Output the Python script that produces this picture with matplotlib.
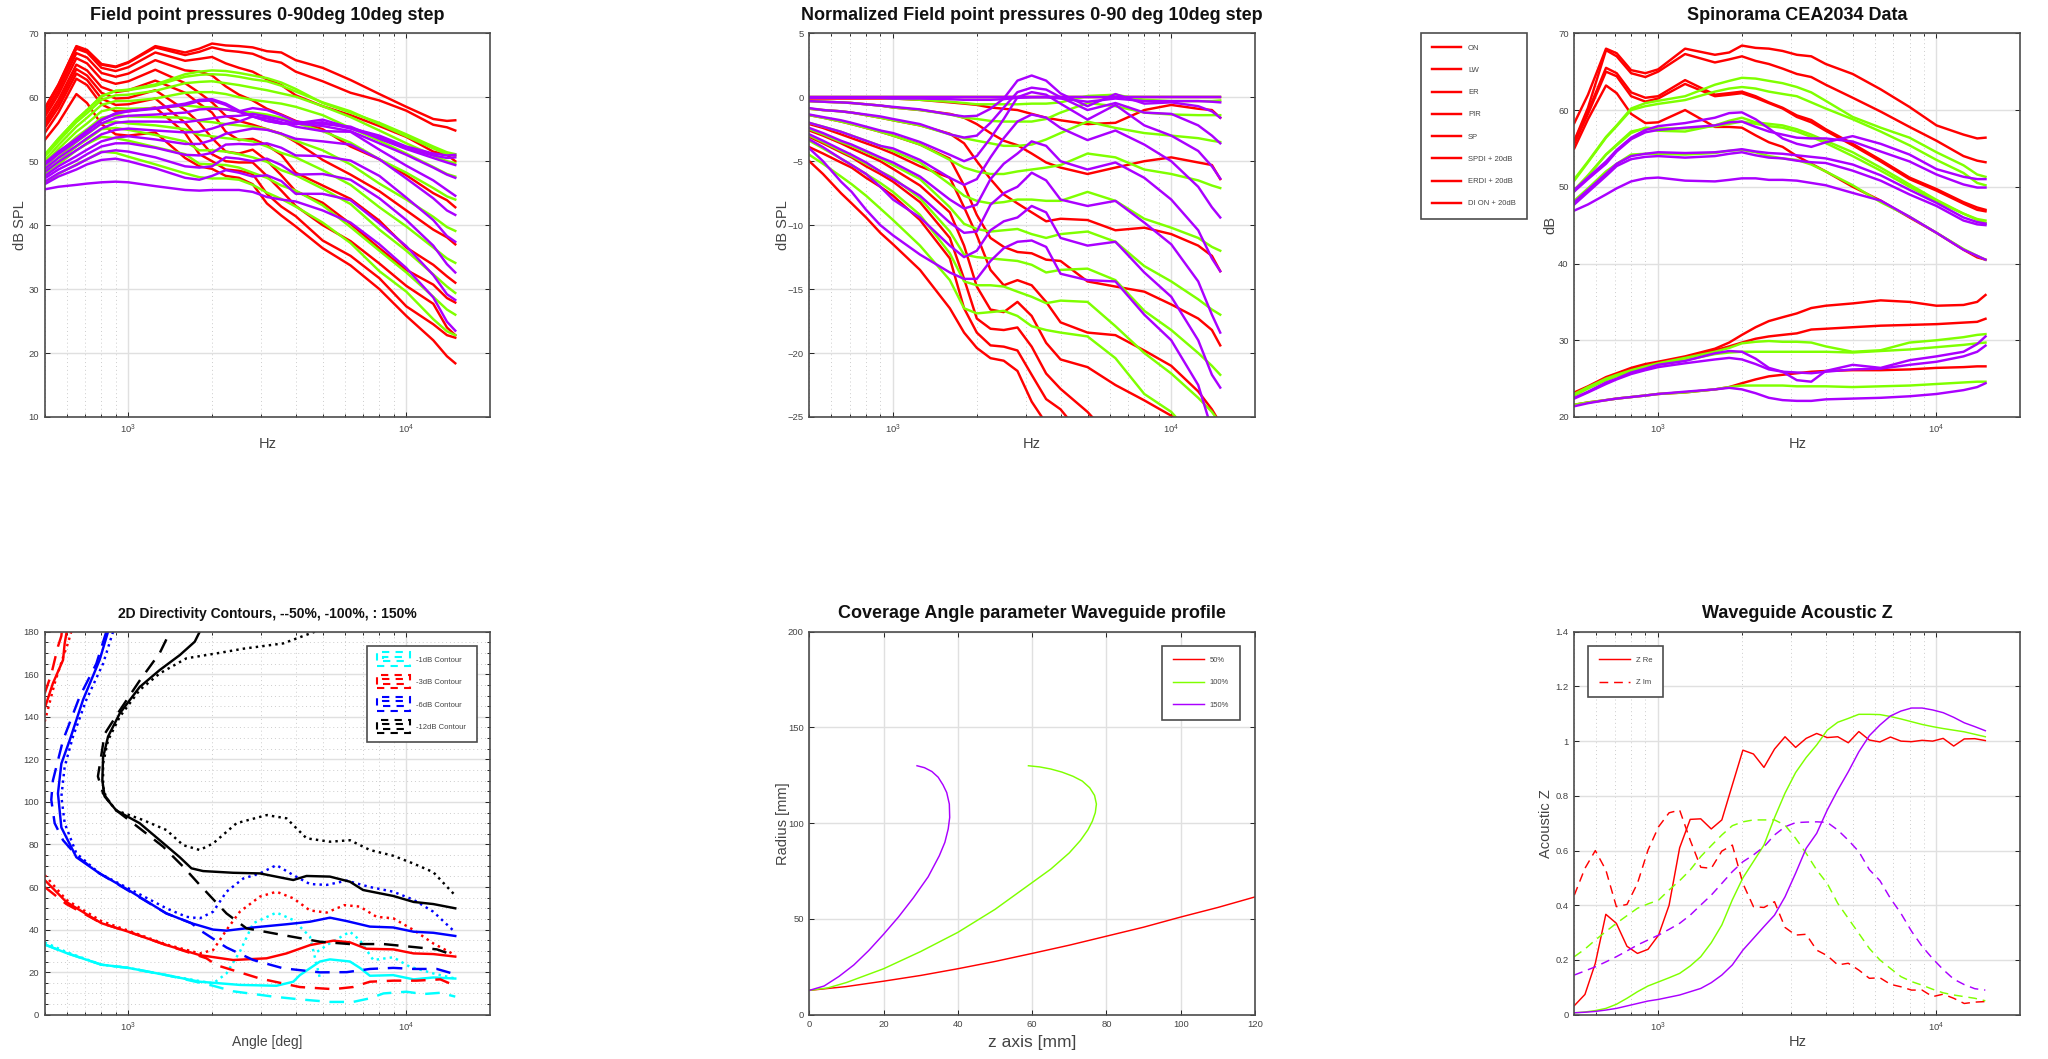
import matplotlib
matplotlib.use('Agg')
import matplotlib.pyplot as plt
from matplotlib.legend_handler import HandlerBase
from matplotlib.lines import Line2D
from matplotlib.patches import Rectangle

plt.rcParams['font.family'] = ['Liberation Sans', 'DejaVu Sans']
plt.rcParams['mathtext.default'] = 'regular'

W, H = 2048, 1059
RED = '#ff0000'
GREEN = '#7fff00'
PURPLE = '#aa00ff'
TXT = '#444444'
THICK = 1.75
THIN = 1.05

freq = [500, 560, 650, 710, 800, 900, 1000, 1250, 1600, 1800, 2000, 2240, 2500, 2800, 3150, 3550, 4000, 5000, 6300, 8000, 10000, 12500, 14000, 15000]

# field point pressures
spl_r0 = [58.3,62.0,68.0,67.4,65.2,64.8,65.5,68.0,67.0,67.6,68.4,68.1,68.0,67.8,67.2,67.0,65.8,64.6,62.7,60.5,58.5,56.6,56.3,56.4]
spl_r1 = [58.2,61.9,67.9,67.3,65.1,64.7,65.4,67.8,66.6,67.1,67.8,67.3,67.1,66.8,65.9,65.4,64.0,62.5,60.7,59.5,57.9,55.7,55.3,54.8]
spl_r2 = [58.0,61.6,67.6,67.0,64.6,64.1,64.7,67.0,65.7,66.0,66.3,65.3,64.6,64.0,62.8,61.9,60.3,58.6,57.2,55.5,53.8,51.5,51.0,50.0]
spl_r3 = [57.4,61.0,66.9,66.2,63.8,63.2,63.7,65.8,64.2,64.0,63.4,61.7,60.4,59.5,58.2,57.3,56.3,55.0,52.3,50.3,47.8,45.0,43.9,42.8]
spl_r4 = [56.9,60.4,66.1,65.3,62.8,62.1,62.5,64.3,62.2,60.7,59.2,57.1,56.3,55.7,55.0,54.3,53.0,50.2,47.9,45.3,42.3,39.3,38.1,37.0]
spl_r5 = [56.2,59.6,65.1,64.2,61.6,60.8,61.1,62.6,60.7,59.0,57.6,54.6,53.3,53.5,52.5,51.0,48.2,46.2,44.1,40.7,36.5,33.8,32.0,31.0]
spl_r6 = [55.7,59.0,64.4,63.4,60.7,59.8,59.9,61.1,58.0,56.0,53.6,51.5,51.2,51.8,50.1,47.8,45.3,43.5,40.2,36.4,33.0,30.7,28.6,27.9]
spl_r7 = [55.2,58.4,63.7,62.7,59.8,58.8,58.9,59.8,56.0,53.4,51.1,50.0,49.8,49.8,47.7,45.4,43.0,40.0,37.5,34.0,30.5,27.7,24.0,22.8]
spl_r8 = [54.4,57.6,62.9,61.9,58.9,57.8,57.8,58.4,54.4,51.1,50.0,48.7,48.5,48.0,44.9,42.9,41.4,37.6,35.2,31.7,27.3,24.5,22.8,22.4]
spl_r9 = [53.3,56.0,60.5,59.1,55.8,54.2,54.0,54.5,50.5,49.2,48.8,47.7,47.4,46.4,43.4,41.5,39.8,36.4,33.7,30.0,25.8,22.0,19.5,18.4]

spl_g0 = [51.0,53.5,56.5,58.0,60.2,61.0,61.2,62.0,63.6,64.0,64.2,64.1,63.8,63.4,63.0,62.3,61.3,59.1,57.6,56.0,54.2,52.3,51.4,51.1]
spl_g1 = [51.0,53.5,56.5,58.0,60.1,61.0,61.1,61.8,63.2,63.5,63.6,63.5,63.2,62.8,62.5,61.8,60.9,59.2,57.8,55.8,53.9,52.0,51.1,50.8]
spl_g2 = [50.7,53.1,56.1,57.5,59.6,60.3,60.4,61.0,62.2,62.4,62.5,62.2,61.9,61.5,61.1,60.6,60.1,58.6,56.9,54.8,52.8,50.9,50.0,49.7]
spl_g3 = [50.1,52.5,55.4,56.8,58.8,59.4,59.4,59.8,60.7,60.8,60.8,60.5,60.0,59.6,59.3,59.0,58.5,57.2,55.2,53.2,51.2,49.1,48.0,47.6]
spl_g4 = [49.6,51.9,54.6,55.9,57.8,58.3,58.2,58.3,58.7,58.5,58.4,58.1,57.8,57.6,57.3,56.8,56.0,54.7,52.9,50.3,48.2,45.8,44.5,44.0]
spl_g5 = [49.0,51.2,53.8,55.0,56.8,57.2,57.0,56.9,56.8,56.3,56.1,55.8,55.6,55.4,55.0,54.2,53.2,51.7,49.5,46.5,44.0,41.3,39.7,39.1]
spl_g6 = [48.5,50.6,53.0,54.2,55.9,56.2,55.9,55.6,55.0,54.1,53.9,53.6,53.4,53.1,52.3,51.3,50.6,48.6,46.3,42.8,39.8,36.5,34.8,34.1]
spl_g7 = [48.0,50.0,52.3,53.4,55.0,55.2,54.9,54.1,53.1,51.7,51.7,51.5,51.1,50.6,49.9,48.6,47.8,45.7,43.3,39.3,36.0,32.3,30.4,29.4]
spl_g8 = [47.6,49.5,51.7,52.7,53.8,53.6,53.2,52.2,51.1,49.6,49.5,49.4,49.0,48.2,47.4,46.2,45.4,43.1,39.7,36.0,32.6,28.8,26.8,26.0]
spl_g9 = [46.5,48.0,49.5,50.3,51.5,51.3,50.7,49.5,48.1,47.5,47.3,47.3,47.1,46.3,45.1,44.1,42.9,40.4,37.2,32.8,29.6,25.3,23.4,22.8]

spl_p0 = [49.7,51.5,53.5,54.8,56.5,57.5,57.9,58.3,59.0,59.6,59.7,59.0,57.9,57.0,56.3,55.9,55.9,56.5,55.2,54.0,52.3,51.2,50.9,51.0]
spl_p1 = [49.6,51.4,53.4,54.7,56.4,57.4,57.8,58.2,58.8,59.4,59.5,58.8,57.7,57.0,56.3,55.9,55.8,56.1,55.1,53.7,52.0,50.9,50.5,50.6]
spl_p2 = [49.4,51.1,53.1,54.3,55.9,56.8,57.1,57.3,57.6,58.1,58.2,58.1,57.8,58.3,58.0,57.2,56.2,55.8,55.4,53.5,51.9,50.5,49.8,49.4]
spl_p3 = [48.8,50.5,52.4,53.6,55.1,56.0,56.2,56.2,56.1,56.4,56.7,57.0,57.1,57.4,57.0,56.5,55.9,55.5,54.7,52.8,51.0,49.0,47.9,47.4]
spl_p4 = [48.3,49.9,51.7,52.8,54.2,54.9,55.1,54.8,54.5,54.6,55.1,55.8,56.2,57.0,56.7,56.1,55.4,54.7,54.6,51.8,49.3,47.0,45.5,44.6]
spl_p5 = [47.7,49.2,50.8,51.8,53.1,53.7,53.9,53.4,52.7,52.7,53.3,54.3,54.7,55.1,54.9,54.3,53.5,53.1,52.6,50.3,47.3,44.2,42.3,41.6]
spl_p6 = [47.3,48.7,50.1,51.1,52.3,52.8,52.8,52.1,51.0,50.9,51.3,52.6,52.7,52.6,52.8,52.1,50.9,50.8,50.1,47.7,44.3,40.8,38.3,37.4]
spl_p7 = [46.8,48.1,49.4,50.3,51.4,51.7,51.5,50.6,49.2,49.0,49.2,50.6,50.4,50.0,50.4,49.4,47.9,48.0,47.1,44.2,40.8,36.8,33.9,32.6]
spl_p8 = [46.4,47.6,48.7,49.5,50.2,50.4,50.0,48.9,47.4,47.1,47.7,48.6,48.2,47.6,47.8,46.9,44.9,44.9,43.9,40.3,36.7,32.2,29.2,28.3]
spl_p9 = [45.6,46.0,46.3,46.5,46.7,46.8,46.7,46.1,45.5,45.4,45.5,45.5,45.5,45.2,44.4,44.0,43.7,42.3,40.4,37.0,33.3,28.7,24.9,23.5]

# normalized field point pressures
norm_zero = [0.0] * 24
norm_r1 = [-0.1,-0.1,-0.1,-0.1,-0.1,-0.1,-0.1,-0.2,-0.4,-0.5,-0.6,-0.8,-0.9,-1.0,-1.3,-1.6,-1.8,-2.1,-2.0,-1.0,-0.6,-0.9,-1.0,-1.6]
norm_r2 = [-0.3,-0.35,-0.4,-0.45,-0.55,-0.65,-0.8,-1.0,-1.3,-1.6,-2.1,-2.8,-3.4,-3.75,-4.4,-5.1,-5.5,-6.0,-5.5,-5.0,-4.7,-5.1,-5.3,-6.4]
norm_r3 = [-0.9,-1.0,-1.1,-1.2,-1.4,-1.6,-1.8,-2.2,-2.85,-3.6,-5.0,-6.4,-7.6,-8.3,-9.0,-9.7,-9.5,-9.6,-10.4,-10.2,-10.7,-11.6,-12.4,-13.6]
norm_r4 = [-1.4,-1.6,-1.9,-2.1,-2.4,-2.7,-3.0,-3.7,-4.8,-6.9,-9.2,-11.0,-11.7,-12.1,-12.2,-12.7,-12.8,-14.4,-14.8,-15.2,-16.2,-17.3,-18.2,-19.4]
norm_r5 = [-2.1,-2.4,-2.9,-3.2,-3.6,-4.0,-4.4,-5.4,-6.3,-8.6,-10.8,-13.5,-14.7,-14.3,-14.7,-16.0,-17.6,-18.4,-18.6,-19.8,-21.0,-23.0,-24.4,-25.5]
norm_r6 = [-2.6,-3.0,-3.6,-4.0,-4.5,-5.0,-5.6,-6.9,-9.0,-11.6,-14.8,-16.6,-16.8,-16.0,-17.1,-19.2,-20.5,-21.1,-22.5,-23.7,-24.9,-26.5,-28.0,-28.5]
norm_r7 = [-3.1,-3.6,-4.3,-4.7,-5.4,-6.0,-6.6,-8.2,-11.0,-14.2,-17.3,-18.1,-18.2,-18.0,-19.5,-21.6,-22.8,-24.6,-27.0,-29.0,-31.0,-33.0,-33.5,-33.8]
norm_r8 = [-3.9,-4.4,-5.1,-5.5,-6.3,-7.0,-7.7,-9.6,-12.6,-16.5,-18.4,-19.4,-19.5,-19.8,-21.7,-23.6,-24.4,-27.0,-28.0,-29.0,-31.0,-33.0,-33.5,-34.0]
norm_r9 = [-5.0,-6.0,-7.5,-8.3,-9.4,-10.6,-11.5,-13.5,-16.5,-18.4,-19.6,-20.4,-20.6,-21.4,-23.8,-25.5,-26.0,-28.2,-29.0,-30.5,-32.7,-34.6,-37.0,-38.0]

norm_g1 = [0,0,0,0,-0.05,-0.05,-0.1,-0.2,-0.35,-0.45,-0.55,-0.55,-0.55,-0.55,-0.5,-0.5,-0.4,0.1,0.2,-0.2,-0.3,-0.3,-0.3,-0.25]
norm_g2 = [-0.3,-0.35,-0.4,-0.45,-0.55,-0.65,-0.8,-1.0,-1.35,-1.6,-1.7,-1.85,-1.9,-1.9,-1.9,-1.7,-1.2,-0.45,-0.7,-1.2,-1.35,-1.4,-1.4,-1.4]
norm_g3 = [-0.9,-1.0,-1.1,-1.2,-1.4,-1.6,-1.8,-2.2,-2.9,-3.2,-3.4,-3.6,-3.8,-3.8,-3.7,-3.3,-2.8,-1.9,-2.4,-2.8,-3.0,-3.2,-3.4,-3.5]
norm_g4 = [-1.4,-1.6,-1.9,-2.1,-2.4,-2.7,-3.0,-3.7,-4.9,-5.5,-5.8,-6.0,-6.0,-5.8,-5.65,-5.5,-5.3,-4.4,-4.7,-5.65,-6.0,-6.5,-6.9,-7.1]
norm_g5 = [-2.0,-2.3,-2.7,-3.0,-3.4,-3.8,-4.2,-5.1,-6.8,-7.7,-8.1,-8.3,-8.2,-8.0,-8.0,-8.1,-8.1,-7.4,-8.1,-9.5,-10.2,-11.0,-11.7,-12.0]
norm_g6 = [-2.5,-2.9,-3.5,-3.8,-4.3,-4.8,-5.3,-6.4,-8.6,-9.9,-10.3,-10.5,-10.4,-10.3,-10.7,-11.0,-10.7,-10.5,-11.3,-13.2,-14.4,-15.8,-16.6,-17.0]
norm_g7 = [-3.0,-3.5,-4.2,-4.6,-5.2,-5.8,-6.3,-7.9,-10.5,-12.3,-12.5,-12.6,-12.7,-12.8,-13.1,-13.7,-13.5,-13.4,-14.3,-16.7,-18.2,-20.0,-21.0,-21.7]
norm_g8 = [-3.4,-4.0,-4.8,-5.3,-6.0,-6.7,-7.4,-9.2,-12.2,-14.4,-14.7,-14.7,-14.8,-15.2,-15.6,-16.1,-15.9,-16.0,-17.9,-20.0,-21.6,-23.5,-24.6,-25.5]
norm_g9 = [-4.5,-5.2,-6.2,-6.8,-7.7,-8.7,-9.6,-11.6,-14.3,-16.5,-16.9,-16.8,-16.7,-17.1,-17.9,-18.2,-18.4,-18.7,-20.4,-23.2,-24.6,-27.0,-28.0,-28.5]

norm_p1 = [-0.05,-0.05,-0.05,-0.05,-0.05,-0.05,-0.1,-0.1,-0.15,-0.2,-0.2,-0.2,-0.15,-0.05,0,0,-0.1,-0.35,-0.1,-0.3,-0.3,-0.3,-0.35,-0.4]
norm_p2 = [-0.3,-0.35,-0.4,-0.45,-0.55,-0.65,-0.75,-0.95,-1.35,-1.5,-1.45,-0.9,-0.1,1.3,1.7,1.3,0.3,-0.7,0.25,-0.5,-0.4,-0.7,-1.1,-1.6]
norm_p3 = [-0.85,-1.0,-1.1,-1.2,-1.35,-1.5,-1.7,-2.1,-2.9,-3.15,-3.0,-2.0,-0.8,0.4,0.75,0.6,0,-1.0,-0.45,-1.2,-1.3,-2.2,-3.0,-3.6]
norm_p4 = [-1.35,-1.55,-1.8,-2.0,-2.3,-2.6,-2.8,-3.5,-4.5,-5.0,-4.6,-3.2,-1.7,0,0.4,0.2,-0.5,-1.75,-0.6,-2.2,-3.0,-4.2,-5.4,-6.35]
norm_p5 = [-2.0,-2.3,-2.7,-3.0,-3.4,-3.8,-4.0,-4.9,-6.3,-6.85,-6.4,-4.7,-3.2,-1.9,-1.35,-1.6,-2.4,-3.35,-2.6,-3.7,-5.0,-7.0,-8.6,-9.4]
norm_p6 = [-2.4,-2.8,-3.4,-3.7,-4.2,-4.7,-5.1,-6.2,-8.0,-8.7,-8.4,-6.4,-5.2,-4.4,-3.45,-3.8,-5.0,-5.65,-5.1,-6.3,-8.0,-10.4,-12.6,-13.6]
norm_p7 = [-2.9,-3.4,-4.1,-4.5,-5.1,-5.8,-6.4,-7.7,-9.8,-10.6,-10.5,-8.4,-7.5,-7.0,-5.9,-6.5,-8.0,-8.5,-8.1,-9.8,-11.5,-14.4,-17.0,-18.4]
norm_p8 = [-3.3,-3.9,-4.8,-5.3,-6.0,-7.0,-8.0,-9.4,-11.6,-12.5,-12.0,-10.4,-9.7,-9.4,-8.5,-9.0,-11.0,-11.6,-11.3,-13.7,-15.6,-19.0,-21.7,-22.7]
norm_p9 = [-4.0,-5.0,-6.6,-7.4,-8.8,-10.0,-10.8,-12.3,-13.7,-14.2,-14.2,-12.8,-11.8,-11.3,-11.2,-11.7,-13.8,-14.3,-14.4,-17.0,-19.0,-22.5,-26.0,-27.5]

# spinorama
cea_r_on = [58.3,62.0,68.0,67.4,65.2,64.8,65.3,68.0,67.2,67.5,68.4,68.1,68.0,67.7,67.2,67.0,66.0,64.7,62.7,60.4,58.0,56.8,56.3,56.4]
cea_r_lw = [56.0,60.3,67.8,67.0,64.8,64.3,65.0,67.3,66.2,66.6,67.0,66.4,66.0,65.4,64.7,64.3,63.3,61.6,59.8,57.8,56.0,54.0,53.4,53.2]
cea_r_er = [56.0,59.8,65.5,64.8,62.3,61.6,61.8,63.9,62.0,62.2,62.4,61.8,61.0,60.3,59.3,58.7,57.5,55.6,53.5,51.2,49.7,48.0,47.3,47.0]
cea_r_pir = [55.6,59.5,65.0,64.4,61.8,61.1,61.5,63.4,61.8,62.0,62.2,61.6,60.9,60.2,59.1,58.4,57.3,55.4,53.3,51.0,49.5,47.8,47.0,46.8]
cea_r_sp = [55.0,58.8,63.2,62.2,59.5,58.3,58.4,60.0,57.8,57.8,57.7,56.7,55.8,55.2,54.0,53.0,52.0,50.0,48.2,46.0,44.0,41.8,40.8,40.5]
cea_r_spdi = [23.2,24.0,25.2,25.7,26.4,26.9,27.2,27.9,28.9,29.7,30.7,31.7,32.5,33.0,33.5,34.2,34.5,34.8,35.2,35.0,34.5,34.6,35.0,35.9]
cea_r_erdi = [23.1,23.9,25.0,25.5,26.2,26.7,27.1,27.7,28.7,29.2,29.7,30.2,30.5,30.7,30.9,31.4,31.5,31.7,31.9,32.0,32.1,32.3,32.4,32.8]
cea_r_di = [21.6,21.9,22.2,22.4,22.6,22.8,23.0,23.2,23.6,23.9,24.4,24.9,25.3,25.5,25.7,25.9,26.0,26.1,26.1,26.2,26.4,26.5,26.6,26.6]

cea_g_on = [51.0,53.3,56.5,58.0,60.2,60.9,61.2,61.8,63.3,63.8,64.2,64.1,63.8,63.5,63.0,62.3,61.2,59.1,57.7,56.4,54.5,52.8,51.6,51.3]
cea_g_lw = [50.8,53.2,56.4,57.9,60.0,60.5,60.8,61.3,62.4,62.8,63.0,62.8,62.4,62.1,61.8,61.0,60.2,58.8,57.2,55.4,53.5,51.8,50.5,50.2]
cea_g_er = [49.6,51.5,54.2,55.5,57.2,57.6,57.3,57.2,58.0,58.6,59.0,58.4,58.2,58.0,57.5,56.8,56.0,54.5,52.5,50.3,48.3,46.5,45.8,45.6]
cea_g_pir = [49.4,51.4,54.2,55.4,57.0,57.7,57.6,57.6,57.9,58.2,58.5,58.2,57.9,57.7,57.2,56.5,55.7,54.0,52.1,50.0,48.1,46.5,45.7,45.3]
cea_g_sp = [48.2,49.8,52.0,53.0,54.2,54.3,54.3,54.2,54.4,54.7,54.8,54.5,54.0,53.7,53.5,52.9,52.0,50.2,48.0,46.1,44.0,41.9,41.0,40.5]
cea_g_spdi = [23.0,23.9,25.0,25.5,26.1,26.6,27.0,27.7,28.5,29.0,29.6,29.8,29.9,29.8,29.8,29.7,29.2,28.5,28.7,29.7,30.0,30.4,30.7,30.8]
cea_g_erdi = [22.8,23.7,24.8,25.3,25.9,26.4,26.8,27.4,28.2,28.4,28.5,28.5,28.5,28.5,28.5,28.5,28.5,28.4,28.6,28.8,29.1,29.4,29.6,29.7]
cea_g_di = [21.6,21.9,22.2,22.4,22.6,22.8,23.0,23.2,23.6,23.9,24.1,24.1,24.1,24.1,24.0,24.0,24.0,23.9,24.0,24.1,24.3,24.5,24.6,24.6]

cea_p_on = [49.6,51.2,53.3,54.8,56.4,57.4,57.9,58.3,59.0,59.6,59.7,58.8,57.6,56.3,55.6,55.2,55.8,56.6,55.6,54.2,52.3,51.3,51.0,51.0]
cea_p_lw = [49.4,51.0,53.0,54.6,56.2,57.1,57.4,57.7,58.0,58.4,58.5,57.8,57.2,56.8,56.4,56.3,56.3,55.9,54.6,53.3,51.6,50.3,49.9,49.9]
cea_p_er = [48.0,49.6,51.7,53.0,54.0,54.3,54.5,54.4,54.5,54.7,54.9,54.6,54.4,54.3,54.1,53.9,53.7,52.9,51.5,49.6,47.9,46.0,45.4,45.2]
cea_p_pir = [47.7,49.3,51.4,52.7,53.6,53.9,54.0,53.8,54.0,54.3,54.5,54.1,53.8,53.7,53.4,53.2,53.1,52.1,50.8,49.0,47.5,45.6,45.1,45.0]
cea_p_sp = [46.9,47.7,49.0,49.8,50.7,51.1,51.2,50.8,50.7,50.9,51.1,51.1,50.9,50.9,50.8,50.5,50.2,49.2,48.2,46.1,44.0,41.8,41.0,40.5]
cea_p_spdi = [22.5,23.3,24.5,25.0,25.8,26.3,26.8,27.3,28.3,28.6,28.5,27.6,26.4,25.9,24.8,24.6,26.0,26.8,26.4,27.4,27.9,28.5,29.5,30.5]
cea_p_erdi = [22.4,23.2,24.3,24.9,25.6,26.1,26.5,27.0,27.5,27.7,27.5,26.9,26.2,25.9,25.8,25.7,25.9,26.2,26.3,26.8,27.2,27.9,28.5,29.3]
cea_p_di = [21.4,21.8,22.2,22.4,22.6,22.8,23.0,23.3,23.6,23.8,23.6,23.1,22.5,22.2,22.1,22.1,22.3,22.4,22.5,22.7,23.0,23.5,23.9,24.4]
cea_labels = ['ON', 'LW', 'ER', 'PIR', 'SP', 'SPDI + 20dB', 'ERDI + 20dB', 'DI ON + 20dB']

# directivity contours, each with its own frequency list (nan splits a contour)
nan = float('nan')
c1_solid_f = [500, 598, 800, 1000, 1370, 1806, 2518, 3411, 3920, 4140, 4890, 5311, 6268, 6808, 7397, 8973, 10620, 12500, 15000]
c1_solid_a = [33, 29, 23.5, 22, 18.6, 15.5, 14, 13.6, 15.5, 18.6, 25, 26, 25, 22, 18.3, 18.6, 16.6, 17.5, 17]
c1_dash_f = [500, 598, 800, 1000, 1370, 2018, 2382, 3320, 4140, 5311, 6430, 7397, 8275, 10000, 11500, 13250, 15000]
c1_dash_a = [33, 29, 23.5, 22, 18.6, 13.6, 11, 8.5, 7.2, 6, 6, 7.7, 10, 10.8, 9.7, 10.3, 8.5]
c1_dot_f = [500, 598, 800, 1000, 1370, 2018, 2254, 2518, 2813, 3411, 3920, 4500, 4890, nan, 4780, 5311, 6268, 6808, 7607, 8973, 10270, 12500, 15000]
c1_dot_a = [34, 29.5, 23.5, 22, 18.6, 14.7, 19.4, 29.6, 43, 48, 44.5, 36.7, 17, nan, 29.6, 33.6, 39, 35, 25.7, 27, 22.6, 19.4, 17]

c3_solid_f = [500, 598, 800, 1000, 1370, 1806, 2382, 3142, 3705, 4500, 5460, 6268, 7176, 8973, 10620, 12500, 15000]
c3_solid_a = [63.3, 53, 43, 39, 32.7, 28, 25.7, 26.5, 28.8, 32.7, 34.8, 34, 31, 30.7, 28.8, 28.5, 27.3]
c3_top_solid_f = [500, 535, 582, 590, 600]
c3_top_solid_a = [144, 155.7, 166.7, 174.5, 180]
c3_dash_f = [500, 598, 800, 1000, 1370, 1910, 2074, 2973, 4140, 5460, 6430, 7397, 8973, 10900, 13250, 15000]
c3_dash_a = [60, 52, 43, 39, 32.7, 26.5, 23.3, 17, 13, 12, 13, 15.5, 16, 16, 16.6, 13.6]
c3_top_dash_f = [500, 528, 558, 574, 576]
c3_top_dash_a = [151, 160, 173, 178, 180]
c3_dot_f = [500, 598, 800, 1000, 1370, 1806, 2018, 2254, 2518, 2973, 3411, 3920, 4500, 5170, 5990, 6808, 7815, 8973, 10620, 12500, 15000]
c3_dot_a = [65.6, 54, 44, 39.5, 33, 28.8, 30.4, 39.8, 48.4, 55.5, 57.8, 54.7, 49, 48, 51.5, 50.8, 46, 45.3, 39.8, 33.5, 28]
c3_top_dot_f = [500, 543, 582, 606, 623]
c3_top_dot_a = [137.7, 155.7, 168, 174.5, 180]

c6_solid_f = [845, 788, 687, 615, 574, 558, 574, 650, 788, 1000, 1370, 1686, 2018, 2254, 2813, 3705, 4500, 5311, 6102, 7397, 8973, 10620, 12500, 15000]
c6_solid_a = [180, 166.7, 148, 129, 118, 104, 88, 74, 66.4, 58.6, 47.6, 43, 40, 39.5, 41, 42.5, 43.7, 45.6, 44, 41.4, 41, 39, 38.5, 37]
c6_dash_f = [833, 767, 668, 582, 535, 528, 543, 582, 659, 788, 1370, 1686, 1806, 2254, 2813, 3607, 4890, 6102, 7397, 8973, 10620, 12870, 15000]
c6_dash_a = [180, 165, 149.5, 129, 110, 101, 90, 82, 74, 66.4, 47.6, 43, 39.8, 31.6, 25.7, 21.8, 19.9, 20, 21.5, 22, 21.5, 21.5, 19]
c6_dot_f = [881, 811, 706, 632, 590, 574, 590, 650, 788, 1000, 1370, 1618, 1806, 2018, 2254, 2589, 2973, 3411, 3920, 4500, 5170, 6102, 7397, 8973, 10620, 12500, 15000]
c6_dot_a = [180, 165, 148, 130.7, 116.6, 102.5, 90, 75.8, 66.4, 59.4, 50, 46, 45.3, 48.4, 57.8, 64, 66.4, 70.3, 65.6, 61.4, 61, 63, 60, 57.8, 54, 48.4, 38.7]

c12_solid_f = [1806, 1733, 1531, 1297, 1098, 931, 845, 811, 806, 822, 905, 1098, 1297, 1531, 1686, 1857, 2382, 2973, 3920, 4375, 5311, 6268, 6990, 8973, 10620, 12500, 15000]
c12_solid_a = [180, 175.3, 169, 162, 154, 141.6, 130.7, 121, 110, 102.5, 96, 90, 82, 74, 68.8, 67.5, 66.7, 66.4, 63.3, 65.2, 64.9, 62.5, 58.6, 55.8, 53, 52, 50]
c12_dash_f = [1370, 1297, 1098, 931, 822, 777, 811, 905, 1098, 1333, 1574, 1806, 2254, 2660, 3607, 4890, 6268, 8275, 10270, 12870, 15000]
c12_dash_a = [176.4, 170, 157, 143, 132, 112, 104, 96, 87.6, 79, 69.6, 61, 47.6, 40.6, 37.4, 34.3, 33.2, 33.2, 32, 30.7, 27.7]
c12_dot_f = [4688, 3607, 2589, 2074, 1618, 1297, 1098, 931, 845, 811, 811, 833, 905, 1129, 1370, 1574, 1806, 2018, 2450, 3142, 3705, 4375, 5311, 6268, 7397, 8973, 10620, 12500, 15000]
c12_dot_a = [180, 174.5, 172, 169.8, 167.5, 160.4, 152.6, 140, 129, 118, 107, 101.7, 96, 91.5, 86.8, 79.7, 77.4, 80.5, 90, 93.8, 92.3, 82.9, 81.3, 82, 77.4, 74.7, 71, 67, 56]
contour_labels = ['-1dB Contour', '-3dB Contour', '-6dB Contour', '-12dB Contour']

# waveguide profiles
z_50 = [0, 10, 20, 30, 40, 50, 60, 70, 80, 90, 100, 110, 120]
r_50 = [12.7, 14.7, 17.5, 20.5, 24, 27.8, 32, 36.3, 41, 45.7, 51, 56, 61.5]
z_100 = [0, 5, 10, 20, 30, 40, 45, 50, 60, 65, 70, 73, 75, 76.2, 77, 77.3, 76.8, 75.5, 73.5, 71, 68, 65, 62, 59]
r_100 = [12.7, 14, 16.8, 24, 33, 43, 49, 55, 69, 76, 84.5, 91, 96.5, 101, 105.5, 110, 114.5, 118.5, 122, 124.5, 126.7, 128.3, 129.4, 130]
z_150 = [0, 4, 8, 12, 16, 20, 24, 28, 32, 35, 36.5, 37.4, 37.8, 37.7, 37, 36, 34.7, 33, 31, 29]
r_150 = [12.7, 15, 20, 26, 33.5, 42, 51, 61, 72, 83, 90, 97, 103, 110, 116, 120, 124, 127, 129, 130]

# acoustic impedance
z_freq = [500, 546, 595, 649, 708, 773, 843, 920, 1004, 1095, 1195, 1304, 1423, 1552, 1694, 1848, 2016, 2200, 2400, 2619, 2857, 3118, 3402, 3712, 4050, 4419, 4821, 5261, 5740, 6263, 6833, 7456, 8135, 8876, 9685, 10567, 11530, 12580, 13726, 14976]
z_re_r = [.033,.074,.188,.367,.334,.25,.224,.239,.291,.40,.61,.714,.716,.679,.712,.84,.967,.953,.904,.971,1.016,.977,1.01,1.028,1.013,1.016,.994,1.035,1.004,.997,1.015,1.0,.998,1.003,1.0,1.01,.982,1.008,1.009,1.002]
z_im_r = [.437,.535,.6,.529,.395,.403,.48,.602,.687,.738,.748,.638,.539,.535,.598,.62,.48,.395,.392,.413,.319,.291,.294,.236,.216,.182,.188,.163,.133,.135,.111,.102,.09,.09,.066,.075,.06,.041,.046,.048]
z_re_g = [.007,.01,.015,.023,.038,.06,.084,.105,.12,.135,.151,.178,.212,.263,.328,.42,.5,.56,.62,.72,.81,.885,.94,.986,1.04,1.069,1.083,1.098,1.098,1.097,1.09,1.081,1.071,1.061,1.053,1.046,1.04,1.034,1.025,1.016]
z_im_g = [.212,.24,.273,.304,.334,.362,.389,.405,.419,.456,.49,.529,.578,.618,.657,.691,.705,.712,.712,.712,.693,.645,.59,.529,.48,.407,.352,.297,.242,.2,.169,.139,.121,.108,.093,.08,.072,.066,.06,.051]
z_re_p = [.007,.009,.012,.017,.023,.032,.041,.05,.056,.064,.072,.084,.096,.117,.145,.182,.236,.279,.322,.364,.431,.517,.608,.663,.748,.821,.888,.961,1.02,1.059,1.092,1.11,1.121,1.121,1.114,1.104,1.087,1.067,1.053,1.038]
z_im_p = [.145,.16,.175,.193,.212,.233,.255,.273,.291,.312,.334,.364,.401,.437,.48,.523,.559,.584,.614,.657,.687,.702,.704,.705,.703,.675,.638,.596,.53,.49,.425,.37,.305,.25,.205,.165,.13,.11,.095,.09]


def px_axes(fig, left, right, top, bottom):
    return fig.add_axes([left / W, 1 - bottom / H, (right - left) / W, (bottom - top) / H])


def style_axes(ax, logx=True, minor_y=False):
    for s in ax.spines.values():
        s.set_color('#4d4d4d')
        s.set_linewidth(1.2)
    ax.tick_params(which='both', direction='in', top=True, right=True, color='#222222', width=0.7)
    ax.tick_params(which='major', length=3.5, labelsize=6.8, labelcolor=TXT, pad=4)
    ax.tick_params(which='minor', length=2)
    ax.set_axisbelow(True)
    ax.grid(True, which='major', color='#e0e0e0', lw=1.0)
    if logx:
        ax.set_xscale('log')
        ax.set_xlim(500, 20000)
        ax.set_xticks([1000, 10000])
        ax.set_xticks([500, 600, 700, 800, 900, 2000, 3000, 4000, 5000, 6000, 7000, 8000, 9000], minor=True)
        ax.xaxis.set_minor_formatter(plt.NullFormatter())
        ax.grid(True, which='minor', axis='x', color='#cccccc', lw=0.7, ls=(0, (1, 3)))
    if minor_y:
        ax.grid(True, which='minor', axis='y', color='#cccccc', lw=0.7, ls=(0, (1, 3)))


def put_labels(ax, title, xlabel, ylabel, title_y, xlabel_y, ylabel_x, title_size=13, label_size=10.5, x_size=None):
    pos = ax.get_position()
    cx = pos.x0 + pos.width / 2
    ax.figure.text(cx, 1 - title_y / H, title, ha='center', va='center', fontsize=title_size, fontweight='bold', color='#111111')
    ax.figure.text(cx, 1 - xlabel_y / H, xlabel, ha='center', va='center', fontsize=x_size or label_size, color=TXT)
    if ylabel:
        ax.figure.text(ylabel_x / W, pos.y0 + pos.height / 2, ylabel, rotation=90, ha='center', va='center', fontsize=label_size, color=TXT)


class LoopHandler(HandlerBase):
    # dashed box with a small dashed box inside, as the contour legend keys look
    def create_artists(self, legend, orig, xd, yd, width, height, fontsize, trans):
        c = orig.get_color()
        h = height * 2.5
        y0 = -yd + height / 2 - h / 2
        dash = (0, (3.5, 3))
        outer = Rectangle((-xd, y0), width, h, fill=False, ec=c, lw=1.5, ls=dash, transform=trans)
        inner = Rectangle((-xd + width * 0.18, y0 + h * 0.32), width * 0.64, h * 0.36, fill=False, ec=c, lw=1.5, ls=dash, transform=trans)
        return [outer, inner]


def frame_legend(ax, handles, labels, left, top, **kw):
    leg = ax.legend(handles, labels, loc='upper left', bbox_to_anchor=(left / W, 1 - top / H), bbox_transform=ax.figure.transFigure,
                    borderaxespad=0, fontsize=5.5, fancybox=False, edgecolor='#4d4d4d', framealpha=1, labelcolor=TXT, **kw)
    leg.get_frame().set_linewidth(1.2)
    return leg


fig = plt.figure(figsize=(W / 100, H / 100), dpi=100, facecolor='white')

# top left
ax1 = px_axes(fig, 44.7, 490, 33.3, 417)
style_axes(ax1)
for y in [spl_r0, spl_r1, spl_r2, spl_r3, spl_r4, spl_r5, spl_r6, spl_r7, spl_r8, spl_r9]:
    ax1.plot(freq, y, color=RED, lw=THICK)
for y in [spl_g0, spl_g1, spl_g2, spl_g3, spl_g4, spl_g5, spl_g6, spl_g7, spl_g8, spl_g9]:
    ax1.plot(freq, y, color=GREEN, lw=THICK)
for y in [spl_p0, spl_p1, spl_p2, spl_p3, spl_p4, spl_p5, spl_p6, spl_p7, spl_p8, spl_p9]:
    ax1.plot(freq, y, color=PURPLE, lw=THICK)
ax1.set_ylim(10, 70)
ax1.set_yticks(range(10, 71, 10))
put_labels(ax1, 'Field point pressures 0-90deg 10deg step', 'Hz', 'dB SPL', 15, 444, 20)

# top middle
ax2 = px_axes(fig, 809.3, 1255, 33.3, 417)
style_axes(ax2)
for y in [norm_zero, norm_r1, norm_r2, norm_r3, norm_r4, norm_r5, norm_r6, norm_r7, norm_r8, norm_r9]:
    ax2.plot(freq, y, color=RED, lw=THICK)
for y in [norm_zero, norm_g1, norm_g2, norm_g3, norm_g4, norm_g5, norm_g6, norm_g7, norm_g8, norm_g9]:
    ax2.plot(freq, y, color=GREEN, lw=THICK)
for y in [norm_zero, norm_p1, norm_p2, norm_p3, norm_p4, norm_p5, norm_p6, norm_p7, norm_p8, norm_p9]:
    ax2.plot(freq, y, color=PURPLE, lw=THICK)
ax2.set_ylim(-25, 5)
ax2.set_yticks(range(-25, 6, 5))
put_labels(ax2, 'Normalized Field point pressures 0-90 deg 10deg step', 'Hz', 'dB SPL', 15, 444, 783)

# top right
ax3 = px_axes(fig, 1574.3, 2020.3, 33.3, 417)
style_axes(ax3)
red_lines = []
for y in [cea_r_on, cea_r_lw, cea_r_er, cea_r_pir, cea_r_sp, cea_r_spdi, cea_r_erdi, cea_r_di]:
    red_lines += ax3.plot(freq, y, color=RED, lw=THICK)
for y in [cea_g_on, cea_g_lw, cea_g_er, cea_g_pir, cea_g_sp, cea_g_spdi, cea_g_erdi, cea_g_di]:
    ax3.plot(freq, y, color=GREEN, lw=THICK)
for y in [cea_p_on, cea_p_lw, cea_p_er, cea_p_pir, cea_p_sp, cea_p_spdi, cea_p_erdi, cea_p_di]:
    ax3.plot(freq, y, color=PURPLE, lw=THICK)
ax3.set_ylim(20, 70)
ax3.set_yticks(range(20, 71, 10))
put_labels(ax3, 'Spinorama CEA2034 Data', 'Hz', 'dB', 15, 444, 1550)
frame_legend(ax3, red_lines, cea_labels, 1421, 33.3, labelspacing=1.95, handlelength=3.8, handletextpad=0.9, borderpad=1.45)

# bottom left
ax4 = px_axes(fig, 44.7, 490, 631.7, 1014.7)
style_axes(ax4, minor_y=True)
ax4.plot(c1_solid_f, c1_solid_a, color='cyan', lw=THICK)
ax4.plot(c1_dash_f, c1_dash_a, color='cyan', lw=THICK, ls=(0, (6, 4)))
ax4.plot(c1_dot_f, c1_dot_a, color='cyan', lw=THICK, ls=(0, (1, 1.7)))
for f, a, ls in [(c3_solid_f, c3_solid_a, '-'), (c3_top_solid_f, c3_top_solid_a, '-'),
                 (c3_dash_f, c3_dash_a, (0, (6, 4))), (c3_top_dash_f, c3_top_dash_a, (0, (6, 4))),
                 (c3_dot_f, c3_dot_a, (0, (1, 1.7))), (c3_top_dot_f, c3_top_dot_a, (0, (1, 1.7)))]:
    ax4.plot(f, a, color=RED, lw=THICK, ls=ls)
ax4.plot(c6_solid_f, c6_solid_a, color='blue', lw=THICK)
ax4.plot(c6_dash_f, c6_dash_a, color='blue', lw=THICK, ls=(0, (6, 4)))
ax4.plot(c6_dot_f, c6_dot_a, color='blue', lw=THICK, ls=(0, (1, 1.7)))
ax4.plot(c12_solid_f, c12_solid_a, color='black', lw=THICK)
ax4.plot(c12_dash_f, c12_dash_a, color='black', lw=THICK, ls=(0, (6, 4)))
ax4.plot(c12_dot_f, c12_dot_a, color='black', lw=THICK, ls=(0, (1, 1.7)))
ax4.set_ylim(0, 180)
ax4.set_yticks(range(0, 181, 20))
ax4.set_yticks(range(0, 181, 5), minor=True)
put_labels(ax4, '2D Directivity Contours, --50%, -100%, : 150%', 'Angle [deg]', None, 614, 1042, 0, title_size=10, label_size=10)
keys = [Line2D([], [], color=c) for c in ['cyan', RED, 'blue', 'black']]
frame_legend(ax4, keys, contour_labels, 366.7, 645.7, labelspacing=1.97, handlelength=4.3, handletextpad=0.8, borderpad=1.4,
             handler_map={Line2D: LoopHandler()})

# bottom middle
ax5 = px_axes(fig, 809.3, 1255, 631.7, 1014.7)
style_axes(ax5, logx=False)
line_50, = ax5.plot(z_50, r_50, color=RED, lw=THIN)
line_100, = ax5.plot(z_100, r_100, color=GREEN, lw=THIN)
line_150, = ax5.plot(z_150, r_150, color=PURPLE, lw=THIN)
ax5.set_xlim(0, 120)
ax5.set_ylim(0, 200)
ax5.set_xticks(range(0, 121, 20))
ax5.set_yticks(range(0, 201, 50))
put_labels(ax5, 'Coverage Angle parameter Waveguide profile', 'z axis [mm]', 'Radius [mm]', 613, 1042, 783, label_size=10.5, x_size=12.5)
frame_legend(ax5, [line_50, line_100, line_150], ['50%', '100%', '150%'], 1162, 645.7, labelspacing=1.97, handlelength=4.0,
             handletextpad=0.8, borderpad=1.44)

# bottom right
ax6 = px_axes(fig, 1574.3, 2020.3, 631.7, 1014.7)
style_axes(ax6)
line_re, = ax6.plot(z_freq, z_re_r, color=RED, lw=THIN)
line_im, = ax6.plot(z_freq, z_im_r, color=RED, lw=THIN, ls=(0, (6, 4)))
ax6.plot(z_freq, z_re_g, color=GREEN, lw=THIN)
ax6.plot(z_freq, z_im_g, color=GREEN, lw=THIN, ls=(0, (6, 4)))
ax6.plot(z_freq, z_re_p, color=PURPLE, lw=THIN)
ax6.plot(z_freq, z_im_p, color=PURPLE, lw=THIN, ls=(0, (6, 4)))
ax6.set_ylim(0, 1.4)
ax6.set_yticks([0, 0.2, 0.4, 0.6, 0.8, 1, 1.2, 1.4])
ax6.set_yticklabels(['0', '0.2', '0.4', '0.6', '0.8', '1', '1.2', '1.4'])
put_labels(ax6, 'Waveguide Acoustic Z', 'Hz', 'Acoustic Z', 613, 1042, 1546)
frame_legend(ax6, [line_re, line_im], ['Z Re', 'Z Im'], 1588, 645.7, labelspacing=1.97, handlelength=4.0, handletextpad=0.8, borderpad=1.44)

fig.savefig('out.png', dpi=100)
